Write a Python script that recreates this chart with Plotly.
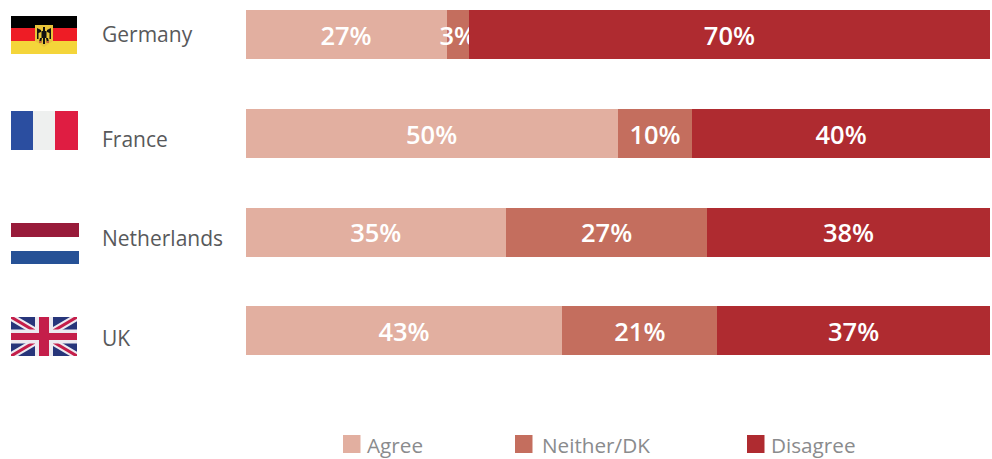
import plotly.graph_objects as go

W, H = 992, 459

countries = ["Germany", "France", "Netherlands", "UK"]
agree = [27, 50, 35, 43]
neither = [3, 10, 27, 21]
disagree = [70, 40, 38, 37]
series_names = ["Agree", "Neither/DK", "Disagree"]
series_colors = ["#e2afa0", "#c46e5e", "#af2b30"]
series_values = [agree, neither, disagree]

FONT = "Open Sans"


def fx(px):
    return px / W


def fy(px):
    return 1 - px / H


def rect(x0, y0, x1, y1, color):
    return dict(type="rect", xref="paper", yref="paper", x0=fx(x0), x1=fx(x1),
                y0=fy(y0), y1=fy(y1), fillcolor=color, line_width=0, layer="above")


def poly(points, color):
    d = "M " + " L ".join(f"{fx(x):.5f},{fy(y):.5f}" for x, y in points) + " Z"
    return dict(type="path", xref="paper", yref="paper", path=d,
                fillcolor=color, line_width=0, layer="above")


def german_flag():
    x0, x1 = 11, 77
    shapes = [rect(x0, 16, x1, 28, "#000000"), rect(x0, 28, x1, 41, "#ee1c25"),
              rect(x0, 41, x1, 54, "#f4d53a")]
    # Shield with a simplified eagle
    shapes.append(poly([(35, 25), (53, 25), (53, 41), (44, 47), (35, 41)], "#e8c53a"))
    black = "#111111"
    shapes += [
        rect(43, 27, 45, 44, black),
        rect(41.5, 31, 46.5, 38, black),
        poly([(37, 28), (41, 30), (41, 32), (38.5, 33), (38.5, 39), (37, 39)], black),
        poly([(51, 28), (47, 30), (47, 32), (49.5, 33), (49.5, 39), (51, 39)], black),
        poly([(40, 38), (42, 38), (41, 43), (39, 42)], black),
        poly([(48, 38), (46, 38), (47, 43), (49, 42)], black),
        rect(39, 41, 41.5, 43, "#c9653a"),
        rect(46.5, 41, 49, 43, "#c9653a"),
    ]
    return shapes


def french_flag():
    return [rect(11, 111, 33, 150, "#2b4ea0"), rect(33, 111, 55, 150, "#eef0ef"),
            rect(55, 111, 78, 150, "#df1d42")]


def dutch_flag():
    return [rect(11, 223, 79, 237, "#981b3a"), rect(11, 251, 79, 264, "#265196")]


def uk_flag():
    x0, x1, y0, y1 = 11, 77, 317, 356
    cx, cy = (x0 + x1) / 2, (y0 + y1) / 2
    navy, white, red = "#27357a", "#eceaf0", "#c41e4a"

    def diagonals(dx, dy, color):
        return [
            poly([(x0, y0), (x0 + dx, y0), (x1, y1 - dy), (x1, y1), (x1 - dx, y1), (x0, y0 + dy)], color),
            poly([(x1, y0), (x1, y0 + dy), (x0 + dx, y1), (x0, y1), (x0, y1 - dy), (x1 - dx, y0)], color),
        ]

    shapes = [rect(x0, y0, x1, y1, navy)]
    shapes += diagonals(7, 4.2, white)
    shapes += diagonals(3, 1.8, red)
    shapes += [rect(cx - 9, y0, cx + 9, y1, white), rect(x0, cy - 7, x1, cy + 7, white),
               rect(cx - 5, y0, cx + 5, y1, red), rect(x0, cy - 3.5, x1, cy + 3.5, red)]
    return shapes


fig = go.Figure()
for name, color, values in zip(series_names, series_colors, series_values):
    fig.add_trace(go.Bar(
        y=countries, x=values, name=name, orientation="h",
        marker=dict(color=color, line_width=0),
        text=[f"{v}%" for v in values],
        textposition="inside", insidetextanchor="middle", textangle=0,
        constraintext="none", cliponaxis=False,
        textfont=dict(family=FONT, size=25.5, color="#ffffff", weight=600),
    ))

annotations = []

# Country names sit left-aligned in the gutter between flags and bars
label_y = [34, 139, 238, 338]
for name, y in zip(countries, label_y):
    annotations.append(dict(xref="paper", yref="paper", x=fx(100), y=fy(y), text=name,
                            showarrow=False, xanchor="left", yanchor="middle",
                            font=dict(family=FONT, size=21, color="#58595b")))

# Legend row with hand-placed swatches and captions
swatch_x = [343, 515, 747]
caption_x = [365, 539.5, 769]
shapes = []
for name, color, x, tx in zip(series_names, series_colors, swatch_x, caption_x):
    shapes.append(rect(x, 435, x + 17.5, 453, color))
    annotations.append(dict(xref="paper", yref="paper", x=fx(tx), y=fy(444.8), text=name,
                            showarrow=False, xanchor="left", yanchor="middle",
                            font=dict(family=FONT, size=20.7, color="#8a8b8d")))

shapes += german_flag() + french_flag() + dutch_flag() + uk_flag()

fig.update_layout(
    width=W, height=H, autosize=False,
    margin=dict(l=0, r=0, t=0, b=0),
    paper_bgcolor="#ffffff", plot_bgcolor="#ffffff",
    barmode="stack", barnorm="percent", bargap=0.503,
    showlegend=False,
    xaxis=dict(domain=[fx(245.5), fx(990)], range=[0, 100], visible=False, fixedrange=True),
    yaxis=dict(domain=[fy(380.3), fy(0.3)], range=[3.5, -0.35], visible=False, fixedrange=True,
               categoryorder="array", categoryarray=countries),
    shapes=shapes, annotations=annotations,
)

fig.write_html("out.html", config={"displayModeBar": False})
